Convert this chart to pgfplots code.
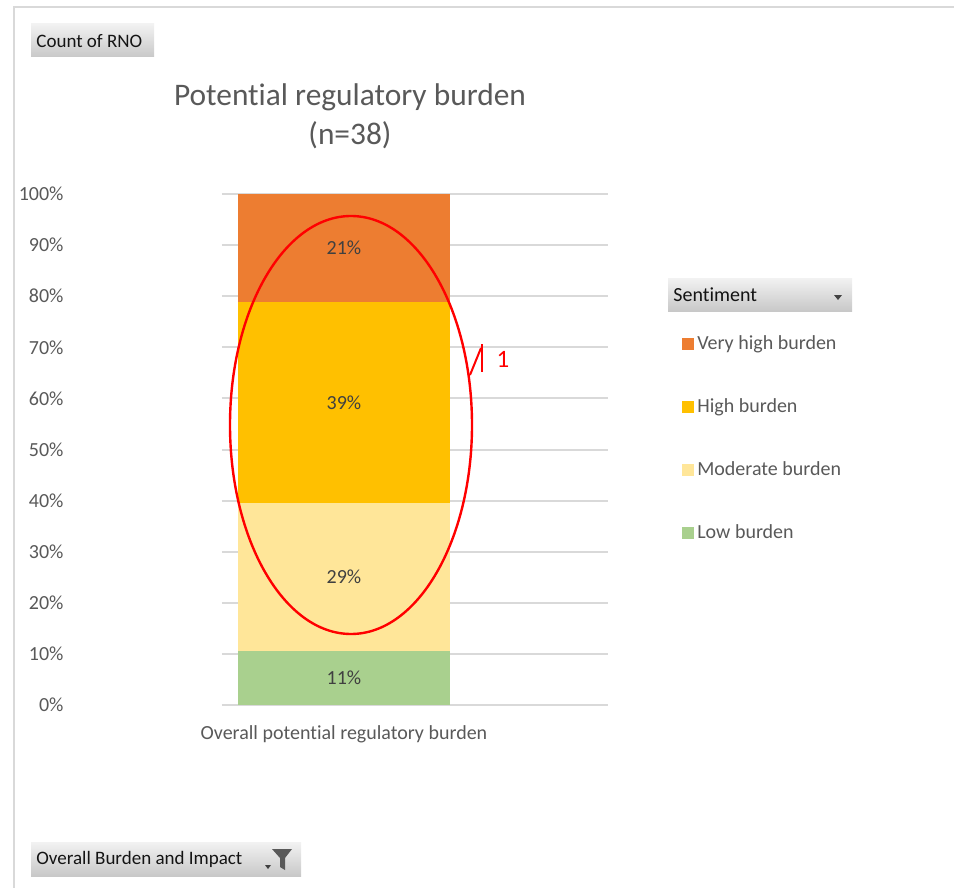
\documentclass[border=0pt]{standalone}
\usepackage{pgfplots}
\pgfplotsset{compat=1.18}
\usepackage{fontspec}
\setmainfont{Carlito}[Ligatures=NoCommon]
\definecolor{vhigh}{RGB}{237,125,49}
\definecolor{high}{RGB}{255,192,0}
\definecolor{moder}{RGB}{255,230,153}
\definecolor{low}{RGB}{169,208,142}
\definecolor{gridc}{RGB}{217,217,217}
\definecolor{txt}{RGB}{89,89,89}
\definecolor{lbl}{RGB}{64,64,64}
\definecolor{btntop}{RGB}{242,242,242}
\definecolor{btnbot}{RGB}{200,200,200}
\definecolor{btntxt}{RGB}{20,20,20}
\begin{document}
\begin{tikzpicture}
\useasboundingbox (0,0) rectangle (477pt,-444pt);
\begin{scope}[x=0.5pt,y=-0.5pt]
  % frame
  \draw[gridc, line width=1pt] (14,888) -- (14,7) -- (954,7);
  % Count of RNO button
  \shade[top color=btntop, bottom color=btnbot] (31,24) rectangle (154,57);
  \node[anchor=west, inner sep=0pt, font=\fontsize{9.5}{11}\selectfont, text=btntxt] at (36,41) {Count of RNO};
  % title
  \node[font=\fontsize{15.7}{18}\selectfont, text=txt] at (350,97) {Potential regulatory burden};
  \node[font=\fontsize{15.7}{18}\selectfont, text=txt] at (350,135) {(n=38)};
  % Sentiment header
  \shade[top color=btntop, bottom color=btnbot] (668,278) rectangle (852,311);
  \node[anchor=west, inner sep=0pt, font=\fontsize{10}{12}\selectfont, text=btntxt] at (673,295) {Sentiment};
  \fill[btntxt!80] (834,295) -- (842,295) -- (838,300) -- cycle;
  % Overall Burden button
  \shade[top color=btntop, bottom color=btnbot] (31,842) rectangle (301,876);
  \node[anchor=west, inner sep=0pt, font=\fontsize{9.5}{11}\selectfont, text=btntxt] at (36,859) {Overall Burden and Impact};
  \fill[black!65] (272,849) -- (292,849) -- (285,858) -- (285,870) -- (280,867) -- (280,858) -- cycle;
  \fill[black!75] (265,865) -- (271,865) -- (268,869) -- cycle;
\end{scope}
\begin{axis}[
  at={(111pt,-352.5pt)}, anchor=south west,
  width=193pt, height=255.5pt, scale only axis,
  xmin=0, xmax=1, ymin=0, ymax=100,
  ybar stacked, bar width=106pt,
  axis line style={draw=none}, tick style={draw=none},
  ymajorgrids, major grid style={gridc, line width=1pt},
  ytick={0,10,20,30,40,50,60,70,80,90,100},
  yticklabels={0\%,10\%,20\%,30\%,40\%,50\%,60\%,70\%,80\%,90\%,100\%},
  yticklabel style={font=\fontsize{10}{12}\selectfont, text=txt, xshift=-75.7pt},
  xtick={0.316}, xticklabels={Overall potential regulatory burden},
  xticklabel style={font=\fontsize{10}{12}\selectfont, text=txt, yshift=-7pt},
  legend style={draw=none, fill=none, at={(1.176,0.737)}, anchor=north west,
    font=\fontsize{10}{12}\selectfont, text=txt, row sep=20pt,
    nodes={inner sep=1.5pt},
    /tikz/every even column/.append style={column sep=0pt}},
  legend cell align=left,
  reverse legend,
  legend image code/.code={\fill[#1] (0pt,-3pt) rectangle (6pt,3pt);},
  clip=false,
]
\addplot[fill=low, draw=none] coordinates {(0.316,10.53)};
\addplot[fill=moder, draw=none] coordinates {(0.316,28.95)};
\addplot[fill=high, draw=none] coordinates {(0.316,39.47)};
\addplot[fill=vhigh, draw=none] coordinates {(0.316,21.05)};
\legend{Low burden, Moderate burden, High burden, Very high burden}
\coordinate (l1) at (axis cs:0.316,5.26);
\coordinate (l2) at (axis cs:0.316,25.0);
\coordinate (l3) at (axis cs:0.316,59.21);
\coordinate (l4) at (axis cs:0.316,89.47);
\end{axis}
\node[font=\fontsize{10}{12}\selectfont, text=lbl] at (l1) {11\%};
\node[font=\fontsize{10}{12}\selectfont, text=lbl] at (l2) {29\%};
\node[font=\fontsize{10}{12}\selectfont, text=lbl] at (l3) {39\%};
\node[font=\fontsize{10}{12}\selectfont, text=lbl] at (l4) {21\%};
\begin{scope}[x=0.5pt,y=-0.5pt]
  \draw[red, line width=1.2pt] (351,425) ellipse (121 and 209);
  \draw[red, line width=1pt] (470,375) -- (481,348);
  \draw[red, line width=1pt] (482,344) -- (482,372);
  \node[red, font=\fontsize{12.5}{14}\selectfont] at (503,359) {1};
\end{scope}
\end{tikzpicture}
\end{document}
